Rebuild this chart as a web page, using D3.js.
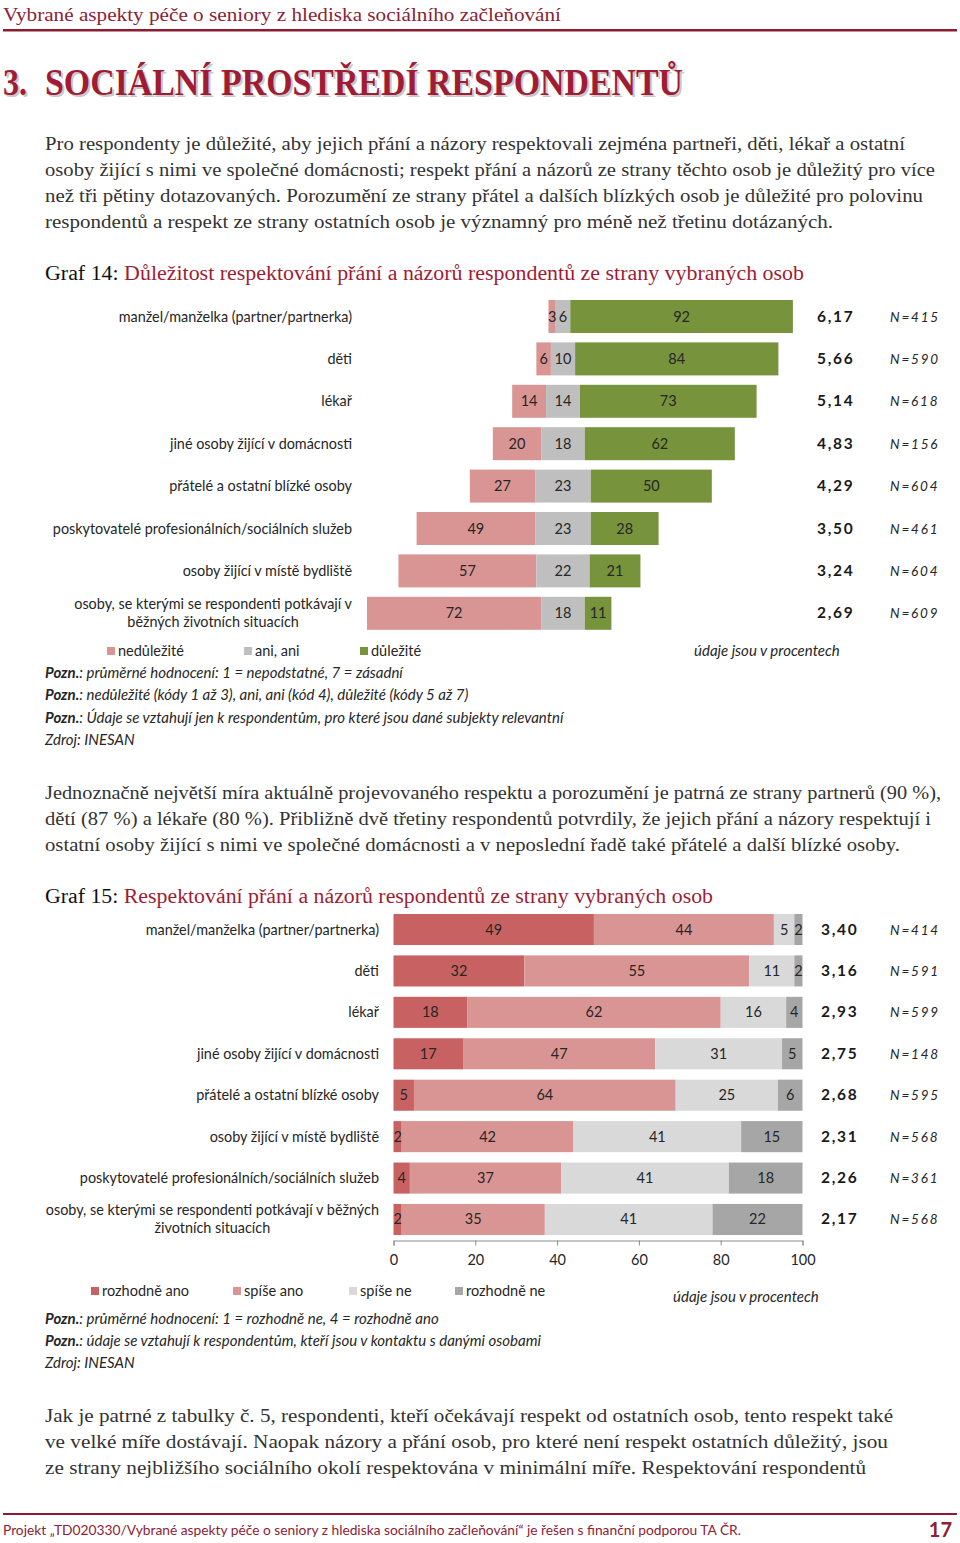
<!DOCTYPE html>
<html><head><meta charset="utf-8">
<script src="https://cdn.jsdelivr.net/npm/d3@7"></script>
<style>body{margin:0;background:#fff}svg{display:block}</style>
</head><body>
<script>
// ---------- DATA ----------
const cats14 = ["manžel/manželka (partner/partnerka)","děti","lékař","jiné osoby žijící v domácnosti","přátelé a ostatní blízké osoby","poskytovatelé profesionálních/sociálních služeb","osoby žijící v místě bydliště","osoby, se kterými se respondenti potkávají v|běžných životních situacích"];
const neg14 = [3,6,14,20,27,49,57,72];
const neu14 = [6,10,14,18,23,23,22,18];
const pos14 = [92,84,73,62,50,28,21,11];
const mean14 = ["6,17","5,66","5,14","4,83","4,29","3,50","3,24","2,69"];
const n14 = [415,590,618,156,604,461,604,609];
const legend14 = ["nedůležité","ani, ani","důležité"];

const cats15 = ["manžel/manželka (partner/partnerka)","děti","lékař","jiné osoby žijící v domácnosti","přátelé a ostatní blízké osoby","osoby žijící v místě bydliště","poskytovatelé profesionálních/sociálních služeb","osoby, se kterými se respondenti potkávají v běžných|životních situacích"];
const defYes15 = [49,32,18,17,5,2,4,2];
const ratherYes15 = [44,55,62,47,64,42,37,35];
const ratherNo15 = [5,11,16,31,25,41,41,41];
const defNo15 = [2,2,4,5,6,15,18,22];
const mean15 = ["3,40","3,16","2,93","2,75","2,68","2,31","2,26","2,17"];
const n15 = [414,591,599,148,595,568,361,568];
const legend15 = ["rozhodně ano","spíše ano","spíše ne","rozhodně ne"];
const ticks15 = [0,20,40,60,80,100];

// ---------- STYLE ----------
const SERIF = "'Liberation Serif', serif";
const SANS = "Lato, 'Open Sans', sans-serif";
const RED = "#a01c34";
const TXT = "#333";
const col14 = ["#d99594","#bfbfbf","#77933c"];
const col15 = ["#c86262","#d99594","#d9d9d9","#a6a6a6"];
const LBL = 14.4, NOTE = 15, LEG = 14.5;

const svg = d3.select("body").append("svg").attr("width",960).attr("height",1543);
svg.append("rect").attr("width",960).attr("height",1543).attr("fill","#fff");

function line(x,y,s,size,fill,len,extra){
  const t = svg.append("text").attr("x",x).attr("y",y).attr("font-family",SERIF)
    .attr("font-size",size).attr("fill",fill).text(s);
  if(len){t.attr("textLength",len).attr("lengthAdjust","spacingAndGlyphs");}
  if(extra) extra(t);
  return t;
}

// header
line(3,21,"Vybrané aspekty péče o seniory z hlediska sociálního začleňování",19.5,"#8c2236",558);
svg.append("rect").attr("x",3).attr("y",29).attr("width",954).attr("height",2.5).attr("fill","#8c1c32");

// title with shadow
[["#c9c9c9",2,2],[RED,0,0]].forEach(([c,dx,dy])=>{
  line(3+dx,95+dy,"3.",38,c,24,t=>t.attr("font-weight","bold"));
  line(45+dx,95+dy,"SOCIÁLNÍ PROSTŘEDÍ RESPONDENTŮ",38,c,638,t=>t.attr("font-weight","bold"));
});

// paragraph 1
const p1 = ["Pro respondenty je důležité, aby jejich přání a názory respektovali zejména partneři, děti, lékař a ostatní",
"osoby žijící s nimi ve společné domácnosti; respekt přání a názorů ze strany těchto osob je důležitý pro více",
"než tři pětiny dotazovaných. Porozumění ze strany přátel a dalších blízkých osob je důležité pro polovinu",
"respondentů a respekt ze strany ostatních osob je významný pro méně než třetinu dotázaných."];
const p1w=[860,890,878,788];
p1.forEach((s,i)=>line(45,150+26*i,s,19,TXT,p1w[i]));

function grafTitle(y,num,rest,len){
  const t = svg.append("text").attr("x",45).attr("y",y).attr("font-family",SERIF).attr("font-size",20)
    .attr("textLength",len).attr("lengthAdjust","spacingAndGlyphs");
  t.append("tspan").attr("fill","#111").text(num+": ");
  t.append("tspan").attr("fill",RED).text(rest);
}
grafTitle(280,"Graf 14","Důležitost respektování přání a názorů respondentů ze strany vybraných osob",759);

// ---------- GRAF 14 ----------
const y14 = d3.scaleBand().domain(cats14).range([295.3,634.5]).paddingInner(0.222).paddingOuter(0.111);
const x14 = d3.scaleLinear().domain([-100,100]).range([563-242,563+242]);
const g14 = svg.append("g");
const segs14 = [];
cats14.forEach((c,i)=>{
  const h = neu14[i]/2;
  segs14.push({c,v:neg14[i],a:-h-neg14[i],b:-h,k:0});
  segs14.push({c,v:neu14[i],a:-h,b:h,k:1});
  segs14.push({c,v:pos14[i],a:h,b:h+pos14[i],k:2});
});
g14.selectAll("rect").data(segs14).join("rect")
  .attr("x",d=>x14(d.a)).attr("width",d=>x14(d.b)-x14(d.a))
  .attr("y",d=>y14(d.c)).attr("height",y14.bandwidth()).attr("fill",d=>col14[d.k]);
g14.selectAll("text.v").data(segs14).join("text").attr("class","v")
  .attr("x",d=>(x14(d.a)+x14(d.b))/2).attr("y",d=>y14(d.c)+y14.bandwidth()/2+5)
  .attr("text-anchor","middle").attr("font-family",SANS).attr("font-size",14.5).attr("fill","#262626")
  .text(d=>d.v);

function catLabels(g,cats,y,xr){
  cats.forEach(c=>{
    const parts = c.split("|");
    const cy = y(c)+y.bandwidth()/2;
    if(parts.length===1){
      g.append("text").attr("x",xr).attr("y",cy+5).attr("text-anchor","end")
        .attr("font-family",SANS).attr("font-size",LBL).attr("fill","#262626").text(c);
    } else {
      const ts = parts.map((p,j)=>g.append("text").attr("y",cy+5+(j-0.5)*18)
        .attr("font-family",SANS).attr("font-size",LBL).attr("fill","#262626").attr("text-anchor","middle").text(p));
      const w = d3.max(ts,t=>t.node().getComputedTextLength());
      ts.forEach(t=>t.attr("x",xr-w/2));
    }
  });
}
catLabels(g14,cats14,y14,352);

function sideVals(g,cats,y,means,ns,xm,xn){
  cats.forEach((c,i)=>{
    const cy = y(c)+y.bandwidth()/2+5;
    g.append("text").attr("x",xm).attr("y",cy).attr("font-family",SANS).attr("font-size",15.5)
      .attr("font-weight","bold").attr("letter-spacing",1.7).attr("fill","#1a1a1a").text(means[i]);
    g.append("text").attr("x",xn).attr("y",cy).attr("font-family",SANS).attr("font-size",13.5)
      .attr("font-style","italic").attr("letter-spacing",1.8).attr("fill","#262626").text("N="+ns[i]);
  });
}
sideVals(g14,cats14,y14,mean14,n14,817,890);

// legend 14
const lx14=[107,244,360];
legend14.forEach((s,i)=>{
  g14.append("rect").attr("x",lx14[i]).attr("y",647).attr("width",8).attr("height",8).attr("fill",col14[i]);
  g14.append("text").attr("x",lx14[i]+11).attr("y",656).attr("font-family",SANS).attr("font-size",LEG).attr("fill","#262626").text(s);
});
function ital(x,y,s){
  return svg.append("text").attr("x",x).attr("y",y).attr("font-family",SANS).attr("font-size",NOTE)
    .attr("font-style","italic").attr("fill","#262626").text(s);
}
function note(y,s){
  const t = svg.append("text").attr("x",45).attr("y",y).attr("font-family",SANS).attr("font-size",NOTE)
    .attr("font-style","italic").attr("fill","#262626");
  t.append("tspan").attr("font-weight","bold").text("Pozn.");
  t.append("tspan").text(": "+s);
}
ital(694,656,"údaje jsou v procentech");
note(678,"průměrné hodnocení: 1 = nepodstatné, 7 = zásadní");
note(700,"nedůležité (kódy 1 až 3), ani, ani (kód 4), důležité (kódy 5 až 7)");
note(723,"Údaje se vztahují jen k respondentům, pro které jsou dané subjekty relevantní");
ital(45,745,"Zdroj: INESAN");

// paragraph 2
const p2 = ["Jednoznačně největší míra aktuálně projevovaného respektu a porozumění je patrná ze strany partnerů (90 %),",
"dětí (87 %) a lékaře (80 %). Přibližně dvě třetiny respondentů potvrdily, že jejich přání a názory respektují i",
"ostatní osoby žijící s nimi ve společné domácnosti a v neposlední řadě také přátelé a další blízké osoby."];
const p2w=[896,886,855];
p2.forEach((s,i)=>line(45,799+26*i,s,19,TXT,p2w[i]));
grafTitle(903,"Graf 15","Respektování přání a názorů respondentů ze strany vybraných osob",668);

// ---------- GRAF 15 ----------
const y15 = d3.scaleBand().domain(cats15).range([908.8,1240.2]).paddingInner(0.25).paddingOuter(0.125);
const x15 = d3.scaleLinear().domain([0,100]).range([393.5,802.5]);
const g15 = svg.append("g");
const stackData = cats15.map((c,i)=>({c,s0:defYes15[i],s1:ratherYes15[i],s2:ratherNo15[i],s3:defNo15[i]}));
const stacked = d3.stack().keys(["s0","s1","s2","s3"])(stackData);
stacked.forEach((layer,k)=>{
  const gl = g15.append("g");
  gl.selectAll("rect").data(layer).join("rect")
    .attr("x",d=>x15(d[0])).attr("width",d=>x15(d[1])-x15(d[0]))
    .attr("y",d=>y15(d.data.c)).attr("height",y15.bandwidth()).attr("fill",col15[k]);
  gl.selectAll("text").data(layer).join("text")
    .attr("x",d=>(x15(d[0])+x15(d[1]))/2).attr("y",d=>y15(d.data.c)+y15.bandwidth()/2+5)
    .attr("text-anchor","middle").attr("font-family",SANS).attr("font-size",14.5).attr("fill","#262626")
    .text(d=>d[1]-d[0]);
});
catLabels(g15,cats15,y15,379);
sideVals(g15,cats15,y15,mean15,n15,821,890);

const ax = g15.append("g").attr("transform","translate(0,1240.5)")
  .call(d3.axisBottom(x15).tickValues(ticks15).tickSize(5).tickPadding(9).tickSizeOuter(5));
ax.select(".domain").attr("stroke","#8c8c8c");
ax.selectAll(".tick line").attr("stroke","#8c8c8c");
ax.selectAll(".tick text").attr("font-family",SANS).attr("font-size",14.5).attr("fill","#262626");

const lx15=[91,233,349,455];
legend15.forEach((s,i)=>{
  g15.append("rect").attr("x",lx15[i]).attr("y",1287).attr("width",8).attr("height",8).attr("fill",col15[i]);
  g15.append("text").attr("x",lx15[i]+11).attr("y",1296).attr("font-family",SANS).attr("font-size",LEG).attr("fill","#262626").text(s);
});
ital(673,1302,"údaje jsou v procentech");
note(1324,"průměrné hodnocení: 1 = rozhodně ne, 4 = rozhodně ano");
note(1346,"údaje se vztahují k respondentům, kteří jsou v kontaktu s danými osobami");
ital(45,1368,"Zdroj: INESAN");

// paragraph 3
const p3 = ["Jak je patrné z tabulky č. 5, respondenti, kteří očekávají respekt od ostatních osob, tento respekt také",
"ve velké míře dostávají. Naopak názory a přání osob, pro které není respekt ostatních důležitý, jsou",
"ze strany nejbližšího sociálního okolí respektována v minimální míře. Respektování respondentů"];
const p3w=[848,843,821];
p3.forEach((s,i)=>line(45,1422+26*i,s,19,TXT,p3w[i]));

// footer
svg.append("rect").attr("x",3).attr("y",1513).attr("width",954).attr("height",2).attr("fill","#8c1c32");
svg.append("text").attr("x",3).attr("y",1535).attr("font-family",SANS).attr("font-size",13.5).attr("fill","#8c2236")
  .attr("textLength",738).attr("lengthAdjust","spacingAndGlyphs")
  .text("Projekt „TD020330/Vybrané aspekty péče o seniory z hlediska sociálního začleňování“ je řešen s finanční podporou TA ČR.");
svg.append("text").attr("x",952).attr("y",1537).attr("text-anchor","end").attr("font-family",SANS).attr("font-size",20)
  .attr("font-weight","bold").attr("fill","#8c2236").text("17");
</script>
</body></html>
